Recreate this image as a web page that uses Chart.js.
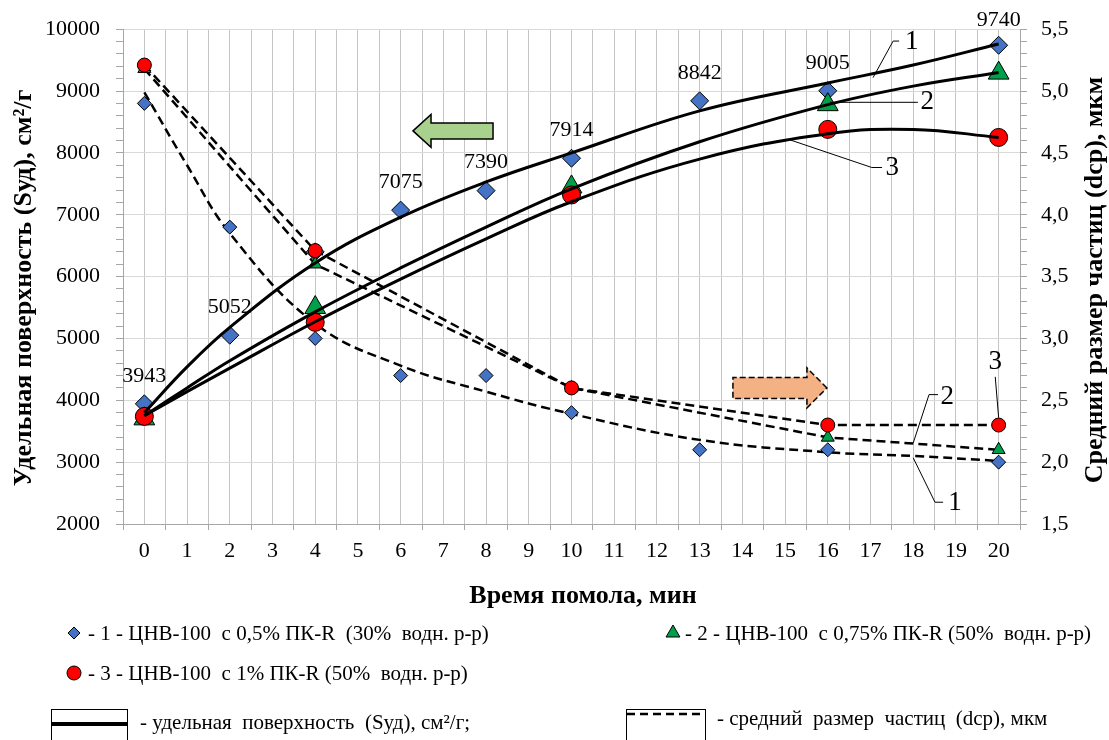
<!DOCTYPE html>
<html>
<head>
<meta charset="utf-8">
<script src="https://cdn.jsdelivr.net/npm/chart.js@4"></script>
<style>
  body { margin: 0; background: #fff; }
  canvas { display: block; }
</style>
</head>
<body>
<canvas id="chart" width="1109" height="740"></canvas>
<script>
// подписи осей
const minuteLabels = ['0','1','2','3','4','5','6','7','8','9','10','11','12','13','14','15','16','17','18','19','20'];
const surfTickLabels = ['2000','3000','4000','5000','6000','7000','8000','9000','10000'];
const sizeTickLabels = ['1,5','2,0','2,5','3,0','3,5','4,0','4,5','5,0','5,5'];

// 1 - ЦНВ-100 с 0,5% ПК-R
const times = [0, 2, 4, 6, 8, 10, 13, 16, 20];
const surf1 = [3943, 5052, 6400, 7075, 7390, 7914, 8842, 9005, 9740];
const surf1Labels = ['3943', '5052', '', '7075', '7390', '7914', '8842', '9005', '9740'];
const size1 = [4.9, 3.9, 3.0, 2.7, 2.7, 2.4, 2.1, 2.1, 2.0];

// 2 и 3
const times23 = [0, 4, 10, 16, 20];
const surf2 = [3700, 5500, 7450, 8780, 9290];
const size2 = [5.18, 3.6, 2.6, 2.2, 2.1];
const surf3 = [3740, 5260, 7320, 8380, 8250];
const size3 = [5.21, 3.71, 2.6, 2.3, 2.3];

// линии тренда
const trendTimes = [0, 1, 2, 4, 6, 8, 10, 13, 16, 18, 20];
const trendSurf1 = [3800, 4540, 5180, 6220, 6960, 7530, 8000, 8680, 9130, 9420, 9760];
const trendSurf2 = [3750, 4200, 4640, 5430, 6140, 6800, 7420, 8180, 8780, 9080, 9300];
const trendSurf3 = [3750, 4140, 4520, 5270, 5960, 6610, 7210, 7900, 8310, 8380, 8250];
const trendSize1 = [4.99, 4.4, 3.85, 3.12, 2.78, 2.57, 2.39, 2.18, 2.08, 2.05, 2.01];

const BLUE = '#4472C4', GREEN = '#00A04A', RED = '#FF0000';
const SERIF = '"Liberation Serif", "Times New Roman", serif';
const DASH = [9, 5];

const pts = (xs, ys) => xs.map((x, i) => ({ x: x, y: ys[i] }));

Chart.defaults.font.family = SERIF;
Chart.defaults.font.size = 22;
Chart.defaults.color = '#000';

function trend(ys, axis, dashed) {
  return {
    data: pts(trendTimes, ys), yAxisID: axis,
    borderColor: '#000', borderWidth: dashed ? 2.5 : 3, borderDash: dashed ? DASH : [],
    pointRadius: 0, fill: false, tension: 0.4,
    order: dashed ? 5 : 0
  };
}
function dashLine(ys) {
  return {
    data: pts(times23, ys), yAxisID: 'y2',
    borderColor: '#000', borderWidth: 2.5, borderDash: DASH,
    pointRadius: 0, fill: false, tension: 0, order: 5
  };
}
function markers(xs, ys, axis, style, color, r, order) {
  return {
    data: pts(xs, ys), yAxisID: axis, showLine: false,
    pointStyle: style, pointRadius: r, pointHoverRadius: r,
    pointBackgroundColor: color, pointBorderColor: '#000', pointBorderWidth: 1,
    order: order
  };
}

const surf1Set = markers(times, surf1, 'y', 'rectRot', BLUE, 9, 3);

const datasets = [
  trend(trendSurf1, 'y', false),
  trend(trendSurf2, 'y', false),
  trend(trendSurf3, 'y', false),
  trend(trendSize1, 'y2', true),
  dashLine(size2),
  dashLine(size3),
  surf1Set,
  markers(times, size1, 'y2', 'rectRot', BLUE, 7, 3),
  markers(times23, surf2, 'y', 'triangle', GREEN, 12, 2),
  markers(times23, size2, 'y2', 'triangle', GREEN, 7.5, 2),
  markers(times23, surf3, 'y', 'circle', RED, 9, 1),
  markers(times23, size3, 'y2', 'circle', RED, 7, 1)
];

function line(ctx, p, w, dash) {
  ctx.beginPath();
  ctx.setLineDash(dash || []);
  ctx.lineWidth = w;
  p.forEach((q, i) => i ? ctx.lineTo(q[0], q[1]) : ctx.moveTo(q[0], q[1]));
  ctx.stroke();
  ctx.setLineDash([]);
}

function arrow(ctx, tx, ty, dir, len, headLen, headHalf, shaftHalf, fill, dash) {
  const b = tx - dir * headLen, e = tx - dir * len;
  ctx.save();
  ctx.beginPath();
  ctx.moveTo(tx, ty);
  ctx.lineTo(b, ty - headHalf);
  ctx.lineTo(b, ty - shaftHalf);
  ctx.lineTo(e, ty - shaftHalf);
  ctx.lineTo(e, ty + shaftHalf);
  ctx.lineTo(b, ty + shaftHalf);
  ctx.lineTo(b, ty + headHalf);
  ctx.closePath();
  ctx.fillStyle = fill;
  ctx.fill();
  ctx.setLineDash(dash || []);
  ctx.lineWidth = 1.5;
  ctx.strokeStyle = '#000';
  ctx.stroke();
  ctx.restore();
}

function marker(ctx, style, x, y, r, color) {
  ctx.save();
  ctx.beginPath();
  if (style === 'diamond') {
    ctx.moveTo(x, y - r); ctx.lineTo(x + r, y); ctx.lineTo(x, y + r); ctx.lineTo(x - r, y);
    ctx.closePath();
  } else if (style === 'triangle') {
    ctx.moveTo(x, y - r); ctx.lineTo(x + r * 0.866, y + r / 2); ctx.lineTo(x - r * 0.866, y + r / 2);
    ctx.closePath();
  } else {
    ctx.arc(x, y, r, 0, Math.PI * 2);
  }
  ctx.fillStyle = color; ctx.fill();
  ctx.lineWidth = 1; ctx.strokeStyle = '#000'; ctx.stroke();
  ctx.restore();
}

const extras = {
  id: 'extras',
  afterDatasetsDraw(chart) {
    const ctx = chart.ctx;
    const sx = chart.scales.x, sy = chart.scales.y, s2 = chart.scales.y2;
    const X = v => sx.getPixelForValue(v), YL = v => sy.getPixelForValue(v), YR = v => s2.getPixelForValue(v);
    ctx.save();

    // стрелки
    arrow(ctx, X(6.29), YL(8356), -1, 80, 18, 16.5, 8, '#A9D18E');
    arrow(ctx, X(15.98), YR(2.6), 1, 94, 20, 20, 10.5, '#F4B183', [6, 3]);

    ctx.fillStyle = '#000';
    ctx.strokeStyle = '#000';

    // подписи значений
    ctx.font = '22px ' + SERIF;
    ctx.textAlign = 'center';
    ctx.textBaseline = 'middle';
    const meta = chart.getDatasetMeta(datasets.indexOf(surf1Set));
    meta.data.forEach((el, i) => {
      if (surf1Labels[i]) ctx.fillText(surf1Labels[i], el.x, Math.max(el.y - 28, 20));
    });

    // выноски
    line(ctx, [[X(17.06), YL(9218)], [X(17.53), YL(9808)], [X(17.67), YL(9808)]], 1);
    line(ctx, [[X(16.05), YL(8818)], [X(18.11), YL(8818)]], 1);
    line(ctx, [[X(15.11), YL(8212)], [X(17.03), YL(7764)], [X(17.27), YL(7764)]], 1);
    line(ctx, [[X(18.0), YR(2.155)], [X(18.37), YR(2.546)], [X(18.58), YR(2.546)]], 1);
    line(ctx, [[X(18.0), YR(2.035)], [X(18.51), YR(1.676)], [X(18.70), YR(1.676)]], 1);
    line(ctx, [[X(19.92), YR(2.69)], [X(20.0), YR(2.36)]], 1);
    ctx.font = '27px ' + SERIF;
    ctx.textAlign = 'left';
    ctx.fillText('1', X(17.81), YL(9790));
    ctx.fillText('2', X(18.17), YL(8818));
    ctx.fillText('3', X(17.35), YL(7750));
    ctx.fillText('2', X(18.64), YR(2.53));
    ctx.fillText('1', X(18.82), YR(1.668));
    ctx.textAlign = 'center';
    ctx.fillText('3', X(19.92), YR(2.81));
    ctx.restore();
  },
  afterDraw(chart) {
    const ctx = chart.ctx;
    ctx.save();
    ctx.fillStyle = '#000';
    ctx.strokeStyle = '#000';
    ctx.textBaseline = 'middle';

    // заголовки осей
    ctx.font = 'bold 26px ' + SERIF;
    ctx.textAlign = 'center';
    ctx.fillText('Время помола, мин', 583, 596);
    ctx.save();
    ctx.translate(24, 288); ctx.rotate(-Math.PI / 2);
    ctx.fillText('Удельная поверхность (Sуд), см²/г', 0, 0);
    ctx.restore();
    ctx.save();
    ctx.translate(1095, 280); ctx.rotate(-Math.PI / 2);
    ctx.fillText('Средний размер частиц (dcp), мкм', 0, 0);
    ctx.restore();

    // легенда
    ctx.font = '21px ' + SERIF;
    ctx.textAlign = 'left';
    marker(ctx, 'diamond', 74, 633, 6, BLUE);
    ctx.fillText('- 1 - ЦНВ-100  с 0,5% ПК-R  (30%  водн. р-р)', 88, 634);
    marker(ctx, 'triangle', 673, 633, 8, GREEN);
    ctx.fillText('- 2 - ЦНВ-100  с 0,75% ПК-R (50%  водн. р-р)', 685, 634);
    marker(ctx, 'circle', 74, 673, 7, RED);
    ctx.fillText('- 3 - ЦНВ-100  с 1% ПК-R (50%  водн. р-р)', 88, 674);

    ctx.lineWidth = 1;
    ctx.strokeRect(51.5, 709.5, 76, 40);
    line(ctx, [[52, 724], [127, 724]], 4);
    ctx.fillText('- удельная  поверхность  (Sуд), см²/г;', 140, 723);
    ctx.lineWidth = 1;
    ctx.strokeRect(626.5, 709.5, 79, 40);
    line(ctx, [[627, 714], [705, 714]], 2.5, [8, 5]);
    ctx.fillText('- средний  размер  частиц  (dcp), мкм', 717, 719);
    ctx.restore();
  }
};

new Chart(document.getElementById('chart'), {
  type: 'line',
  data: { datasets: datasets },
  plugins: [extras],
  options: {
    responsive: false,
    animation: false,
    layout: { padding: { top: 23, left: 0, right: 0, bottom: 0 } },
    plugins: { legend: { display: false }, tooltip: { enabled: false } },
    scales: {
      x: {
        type: 'linear', min: -0.5, max: 20.5,
        afterFit: s => { s.height = 216; },
        border: { color: '#a6a6a6' },
        grid: {
          color: '#c4c4c4', tickLength: 6,
          tickColor: c => Number.isInteger(c.tick.value) ? 'rgba(0,0,0,0)' : '#a6a6a6'
        },
        ticks: {
          stepSize: 0.5, autoSkip: false, maxRotation: 0, padding: 8,
          callback: v => Number.isInteger(v) ? minuteLabels[v] : ''
        }
      },
      y: {
        position: 'left', min: 2000, max: 10000,
        afterFit: s => { s.width = 123; },
        border: { color: '#a6a6a6' },
        grid: {
          tickLength: 7, tickColor: '#a6a6a6',
          color: c => c.tick.value % 1000 === 0 ? '#d9d9d9' : 'rgba(0,0,0,0)'
        },
        ticks: {
          stepSize: 200, autoSkip: false, padding: 16,
          callback: v => v % 1000 === 0 ? surfTickLabels[(v - 2000) / 1000] : ''
        }
      },
      y2: {
        position: 'right', min: 1.5, max: 5.5,
        afterFit: s => { s.width = 89; },
        border: { color: '#a6a6a6' },
        grid: { drawOnChartArea: false, tickLength: 7, tickColor: '#a6a6a6' },
        ticks: {
          stepSize: 0.1, autoSkip: false, padding: 14,
          callback: v => {
            const k = Math.round((v - 1.5) * 2);
            return Math.abs((v - 1.5) * 2 - k) < 1e-6 ? sizeTickLabels[k] : '';
          }
        }
      }
    }
  }
});
</script>
</body>
</html>
